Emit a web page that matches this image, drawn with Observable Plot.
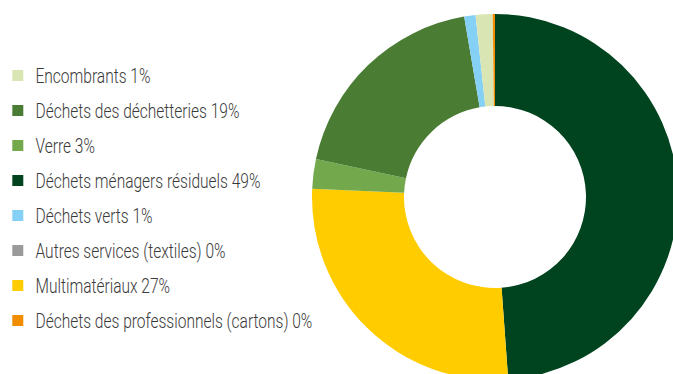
<!DOCTYPE html>
<html>
<head>
<meta charset="utf-8">
<script src="https://cdn.jsdelivr.net/npm/d3@7"></script>
<script src="https://cdn.jsdelivr.net/npm/@observablehq/plot@0.6"></script>
<style>
  html, body { margin: 0; padding: 0; background: #fff; }
  #chart svg { display: block; }
</style>
</head>
<body>
<div id="chart"></div>
<script>
// Legend order (top to bottom)
const categories = [
  "Encombrants",
  "Déchets des déchetteries",
  "Verre",
  "Déchets ménagers résiduels",
  "Déchets verts",
  "Autres services (textiles)",
  "Multimatériaux",
  "Déchets des professionnels (cartons)"
];
const percentLabels = ["1%", "19%", "3%", "49%", "1%", "0%", "27%", "0%"];
// Shares (percent)
const shares = [1.5, 19.0, 2.6, 48.9, 1.0, 0.0, 26.9, 0.2];
const colors = ["#d9e5b3", "#4a7c34", "#74a84c", "#00441f", "#85d0f5", "#9a9a9a", "#ffcc00", "#f28c00"];
// Clockwise slice order starting at 12 o'clock
const pieOrder = [
  "Déchets ménagers résiduels",
  "Multimatériaux",
  "Verre",
  "Déchets des déchetteries",
  "Déchets verts",
  "Encombrants",
  "Autres services (textiles)",
  "Déchets des professionnels (cartons)"
];

const legendRows = categories.map((c, i) => ({category: c, label: `${c} ${percentLabels[i]}`}));
const slices = pieOrder.map(c => ({category: c, share: shares[categories.indexOf(c)]}));

const W = 673, H = 374;
const donut = {cx: 495, cy: 197, outer: 183, inner: 91};
const legendTextX = 35, legendTextWidth = 277;

function donutMark(index, scales, values, dimensions) {
  const color = scales.color || (c => colors[categories.indexOf(c)]);
  const arcs = d3.pie().sort(null).value(d => d.share)(slices);
  const arc = d3.arc().innerRadius(donut.inner).outerRadius(donut.outer);
  const g = d3.create("svg:g").attr("transform", `translate(${donut.cx},${donut.cy})`);
  g.selectAll("path")
    .data(arcs.filter(a => a.data.share > 0))
    .join("path")
    .attr("d", arc)
    .attr("fill", a => color(a.data.category));
  return g.node();
}

const chart = Plot.plot({
  width: W,
  height: H,
  margin: 0,
  style: {fontFamily: "Roboto, 'DejaVu Sans Condensed', sans-serif", background: "#fff"},
  x: {type: "identity", axis: null},
  y: {type: "point", domain: categories, range: [72.3, 323.5], padding: 0, axis: null},
  color: {type: "ordinal", domain: categories, range: colors},
  marks: [
    donutMark,
    Plot.dot(legendRows, {x: 17.3, y: "category", fill: "category", symbol: "square", r: 6.2, stroke: null}),
    Plot.text(legendRows, {x: legendTextX, y: "category", dy: 1.2, text: "label", textAnchor: "start", fontSize: 20.5, fontWeight: 300, fill: "#3a3a3a"})
  ]
});
document.getElementById("chart").appendChild(chart);

// Condense the legend labels horizontally (the reference uses a condensed face)
const textGroup = d3.select(chart).select('g[aria-label="text"]');
let maxLen = 0;
textGroup.selectAll("text").each(function () { maxLen = Math.max(maxLen, this.getComputedTextLength()); });
if (maxLen > 0) {
  const s = legendTextWidth / maxLen;
  const prev = textGroup.attr("transform") || "";
  textGroup.attr("transform", `${prev} translate(${legendTextX},0) scale(${s},1) translate(${-legendTextX},0)`.trim());
}
</script>
</body>
</html>
